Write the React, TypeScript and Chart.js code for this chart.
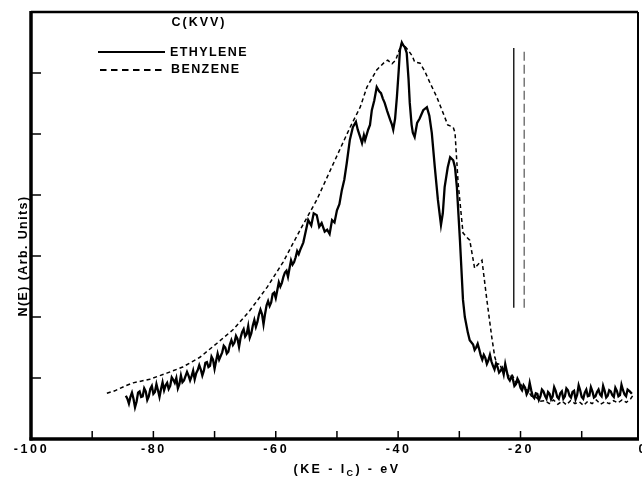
import React, { useEffect, useRef } from "react";
import { Chart, registerables } from "chart.js";

Chart.register(...registerables);

// ---- data (x: KE - Ic in eV, y: N(E) arbitrary units) ----
const benzenePoints: [number, number][] = [
  [-87.6, 0.75], [-86.3, 0.79], [-84.6, 0.87], [-83.3, 0.92], [-80.6, 0.98], [-77.8, 1.08],
  [-75.2, 1.18], [-72.4, 1.34], [-69.6, 1.57], [-67.0, 1.79], [-64.2, 2.11], [-61.4, 2.49],
  [-58.8, 2.9], [-56.0, 3.43], [-53.3, 3.92], [-50.7, 4.49], [-47.9, 5.1], [-46.2, 5.44],
  [-45.1, 5.77], [-43.5, 6.05], [-42.2, 6.18], [-41.7, 6.21], [-41.0, 6.15], [-40.4, 6.21],
  [-39.7, 6.41], [-39.4, 6.49], [-38.9, 6.44], [-38.4, 6.38], [-37.7, 6.28], [-37.3, 6.18],
  [-36.4, 6.16], [-35.6, 6.02], [-34.8, 5.84], [-33.7, 5.61], [-32.4, 5.28], [-31.9, 5.15],
  [-31.0, 5.11], [-30.7, 5.02], [-30.2, 4.2], [-29.4, 3.38], [-28.8, 3.31], [-28.3, 3.26],
  [-27.5, 2.8], [-26.3, 2.93], [-25.5, 2.28], [-24.7, 1.67], [-24.2, 1.34], [-23.8, 1.22],
  [-23.4, 1.24], [-23.0, 1.12], [-22.5, 1.15], [-22.0, 1.03], [-21.4, 1.06], [-20.8, 0.93],
  [-20.1, 0.92], [-19.5, 0.82], [-18.8, 0.8], [-18.2, 0.7], [-17.5, 0.69], [-16.8, 0.62],
  [-16.0, 0.63], [-15.3, 0.58], [-14.6, 0.64], [-13.9, 0.57], [-13.2, 0.62], [-12.5, 0.56],
  [-11.8, 0.63], [-11.1, 0.58], [-10.4, 0.61], [-9.7, 0.55], [-9.0, 0.62], [-8.3, 0.58],
  [-7.6, 0.64], [-6.9, 0.57], [-6.2, 0.61], [-5.5, 0.58], [-4.8, 0.63], [-4.1, 0.59],
  [-3.4, 0.64], [-2.7, 0.6], [-2.0, 0.66], [-1.6, 0.72],
];

const ethyleneLow: [number, number][] = [
  [-84.5, 0.71], [-84.25, 0.66], [-84, 0.58], [-83.75, 0.69], [-83.5, 0.76], [-83.25, 0.66],
  [-83, 0.52], [-82.75, 0.61], [-82.5, 0.76], [-82.25, 0.78], [-82, 0.69], [-81.75, 0.7],
  [-81.5, 0.83], [-81.25, 0.78], [-81, 0.64], [-80.75, 0.7], [-80.5, 0.82], [-80.25, 0.87],
  [-80, 0.74], [-79.75, 0.77], [-79.5, 0.9], [-79.25, 0.8], [-79, 0.69], [-78.75, 0.82],
  [-78.5, 0.93], [-78.25, 0.8], [-78, 0.88], [-77.75, 0.92], [-77.5, 0.82], [-77.25, 0.87],
  [-77, 1.01], [-76.75, 0.97], [-76.5, 0.92], [-76.25, 1.0], [-76, 0.83], [-75.75, 0.9],
  [-75.5, 1.04], [-75.25, 0.93], [-75, 0.96], [-74.75, 1.03], [-74.5, 1.1], [-74.25, 1.04],
  [-74, 0.96], [-73.75, 1.03], [-73.5, 1.12], [-73.25, 0.98], [-73, 1.08], [-72.75, 1.13],
  [-72.5, 1.21], [-72.25, 1.14], [-72, 1.04], [-71.75, 1.12], [-71.5, 1.25], [-71.25, 1.26],
  [-71, 1.18], [-70.75, 1.2], [-70.5, 1.35], [-70.25, 1.3], [-70, 1.15], [-69.75, 1.28],
  [-69.5, 1.4], [-69.25, 1.3], [-69, 1.36], [-68.75, 1.42], [-68.5, 1.53], [-68.25, 1.5],
  [-68, 1.4], [-67.75, 1.43], [-67.5, 1.55], [-67.25, 1.62], [-67, 1.54], [-66.75, 1.58],
  [-66.5, 1.69], [-66.25, 1.64], [-66, 1.51], [-65.75, 1.66], [-65.5, 1.75], [-65.25, 1.8],
  [-65, 1.68], [-64.75, 1.72], [-64.5, 1.85], [-64.25, 1.66], [-64, 1.73], [-63.75, 1.86],
  [-63.5, 1.95], [-63.25, 1.84], [-63, 1.92], [-62.75, 2.04], [-62.5, 2.12], [-62.25, 2.05],
  [-62, 1.88], [-61.75, 2.05], [-61.5, 2.19], [-61.25, 2.26], [-61, 2.18], [-60.75, 2.24],
  [-60.5, 2.38], [-60.25, 2.4], [-60, 2.31], [-59.75, 2.44], [-59.5, 2.57], [-59.25, 2.5],
  [-59, 2.56], [-58.75, 2.66], [-58.5, 2.73], [-58.25, 2.76], [-58, 2.66], [-57.75, 2.8],
  [-57.5, 2.93], [-57.25, 2.86], [-57, 2.9], [-56.75, 2.98], [-56.5, 3.08], [-56.25, 3.03],
  [-56, 3.1],
];

const ethylenePeak: [number, number][] = [
  [-55.5, 3.22], [-55.0, 3.45], [-54.7, 3.59], [-54.2, 3.5], [-53.8, 3.7], [-53.3, 3.67],
  [-52.9, 3.48], [-52.5, 3.54], [-52.0, 3.4], [-51.6, 3.43], [-51.2, 3.36], [-50.8, 3.59],
  [-50.4, 3.55], [-50.0, 3.75], [-49.6, 3.85], [-49.2, 4.08], [-48.8, 4.25], [-48.4, 4.52],
  [-47.9, 4.9], [-47.4, 5.11], [-46.9, 5.2], [-46.6, 5.07], [-46.2, 4.95], [-45.9, 4.85],
  [-45.6, 4.98], [-45.4, 4.9], [-44.9, 5.07], [-44.6, 5.15], [-44.3, 5.39], [-43.9, 5.55],
  [-43.5, 5.77], [-43.1, 5.7], [-42.8, 5.67], [-42.5, 5.58], [-42.2, 5.51], [-41.8, 5.38],
  [-41.3, 5.23], [-41.0, 5.15], [-40.8, 5.07], [-40.5, 5.25], [-40.2, 5.61], [-39.9, 6.05],
  [-39.7, 6.38], [-39.4, 6.5], [-39.2, 6.46], [-38.9, 6.42], [-38.6, 6.33], [-38.3, 5.9],
  [-38.1, 5.51], [-37.8, 5.15], [-37.6, 5.02], [-37.3, 4.95], [-36.9, 5.18], [-36.5, 5.25],
  [-35.9, 5.39], [-35.3, 5.44], [-34.9, 5.3], [-34.5, 5.02], [-34.0, 4.45], [-33.5, 3.92],
  [-33.0, 3.51], [-32.7, 3.7], [-32.4, 4.13], [-31.9, 4.45], [-31.5, 4.62], [-31.0, 4.57],
  [-30.7, 4.45], [-30.4, 4.13], [-29.9, 3.26], [-29.4, 2.28], [-29.1, 2.0], [-28.6, 1.74],
  [-28.3, 1.62],
];

const ethyleneTail: [number, number][] = [
  [-27.75, 1.55], [-27.5, 1.46], [-27.25, 1.5], [-27, 1.56], [-26.75, 1.47], [-26.5, 1.37],
  [-26.25, 1.3], [-26, 1.38], [-25.75, 1.33], [-25.5, 1.23], [-25.25, 1.29], [-25, 1.38],
  [-24.75, 1.27], [-24.5, 1.2], [-24.25, 1.14], [-24, 1.24], [-23.75, 1.18], [-23.5, 1.09],
  [-23.25, 1.12], [-23, 1.16], [-22.75, 1.06], [-22.5, 1.23], [-22.25, 1.11], [-22, 1.0],
  [-21.75, 0.96], [-21.5, 1.02], [-21.25, 0.98], [-21, 0.87], [-20.75, 0.9], [-20.5, 0.99],
  [-20.25, 0.94], [-20, 0.84], [-19.75, 0.8], [-19.5, 0.88], [-19.25, 0.84], [-19, 0.73],
  [-18.75, 0.78], [-18.5, 0.92], [-18.25, 0.8], [-18, 0.7], [-17.75, 0.67], [-17.5, 0.75],
  [-17.25, 0.74], [-17, 0.64], [-16.75, 0.7], [-16.5, 0.81], [-16.25, 0.78], [-16, 0.71],
  [-15.75, 0.66], [-15.5, 0.77], [-15.25, 0.74], [-15, 0.65], [-14.75, 0.7], [-14.5, 0.85],
  [-14.25, 0.79], [-14, 0.69], [-13.75, 0.66], [-13.5, 0.75], [-13.25, 0.78], [-13, 0.66],
  [-12.75, 0.7], [-12.5, 0.83], [-12.25, 0.8], [-12, 0.71], [-11.75, 0.68], [-11.5, 0.77],
  [-11.25, 0.79], [-11, 0.65], [-10.75, 0.72], [-10.5, 0.88], [-10.25, 0.8], [-10, 0.69],
  [-9.75, 0.66], [-9.5, 0.76], [-9.25, 0.81], [-9, 0.7], [-8.75, 0.71], [-8.5, 0.85],
  [-8.25, 0.78], [-8, 0.68], [-7.75, 0.7], [-7.5, 0.77], [-7.25, 0.81], [-7, 0.73],
  [-6.75, 0.7], [-6.5, 0.87], [-6.25, 0.79], [-6, 0.68], [-5.75, 0.71], [-5.5, 0.8],
  [-5.25, 0.78], [-5, 0.72], [-4.75, 0.69], [-4.5, 0.84], [-4.25, 0.79], [-4, 0.7],
  [-3.75, 0.72], [-3.5, 0.89], [-3.25, 0.8], [-3, 0.73], [-2.75, 0.7], [-2.5, 0.81],
  [-2.15, 0.78], [-1.8, 0.74],
];

const ionSolidX = -21.1;
const ionDashedX = -19.4;
const ionLineY = [2.15, 6.41];

const xTickMarks = [-90, -80, -70, -60, -50, -40, -30, -20, -10];
const xTickLabels = [-100, -80, -60, -40, -20, 0];
const yTickMarks = [1, 2, 3, 4, 5, 6];

const TITLE = "C(KVV)";
const LEGEND_SOLID = "ETHYLENE";
const LEGEND_DASHED = "BENZENE";
const Y_TITLE = "N(E) (Arb. Units)";

const FAMILY = '"Liberation Sans", Arial, sans-serif';
const FONT = "bold 12.5px " + FAMILY;

const toXY = (pts: [number, number][]) => pts.map(([x, y]) => ({ x, y }));

const framePlugin = {
  id: "frame",
  afterDraw(chart: any) {
    const { ctx, chartArea: a, scales } = chart;
    const xs = scales.x;
    const ys = scales.y;
    const line = (x1: number, y1: number, x2: number, y2: number) => {
      ctx.beginPath();
      ctx.moveTo(x1, y1);
      ctx.lineTo(x2, y2);
      ctx.stroke();
    };
    ctx.save();
    ctx.strokeStyle = "#000";
    ctx.fillStyle = "#000";
    ctx.setLineDash([]);
    // frame
    ctx.lineWidth = 2.5;
    line(a.left, a.top, a.right, a.top);
    ctx.lineWidth = 2;
    line(a.right, a.top, a.right, a.bottom);
    ctx.lineWidth = 3.5;
    line(a.left, a.top - 1, a.left, a.bottom + 1.5);
    line(a.left - 1.5, a.bottom, a.right + 1, a.bottom);
    // inward ticks
    ctx.lineWidth = 1.5;
    xTickMarks.forEach((v) => {
      const px = xs.getPixelForValue(v);
      line(px, a.bottom, px, a.bottom - 8);
    });
    yTickMarks.forEach((v) => {
      const py = ys.getPixelForValue(v);
      line(a.left, py, a.left + 10, py);
    });
    // tick labels
    ctx.font = FONT;
    (ctx as any).letterSpacing = "2.6px";
    ctx.textAlign = "center";
    ctx.textBaseline = "middle";
    xTickLabels.forEach((v) => {
      const px = xs.getPixelForValue(v);
      const label = v === 0 ? "0" : "-" + Math.abs(v);
      ctx.fillText(label, px + 0.5, a.bottom + 11);
    });
    // x title with subscript
    (ctx as any).letterSpacing = "2.4px";
    const parts = [
      { t: "(KE - I", f: FONT, dy: 0 },
      { t: "C", f: "bold 9px " + FAMILY, dy: 4 },
      { t: ") - eV", f: FONT, dy: 0 },
    ];
    ctx.textAlign = "left";
    let total = 0;
    parts.forEach((p) => {
      ctx.font = p.f;
      total += ctx.measureText(p.t).width;
    });
    let cx = a.left + 316 - total / 2;
    const ty = a.bottom + 31;
    parts.forEach((p) => {
      ctx.font = p.f;
      ctx.fillText(p.t, cx, ty + p.dy);
      cx += ctx.measureText(p.t).width;
    });
    // y title
    ctx.save();
    ctx.font = FONT;
    (ctx as any).letterSpacing = "1.4px";
    ctx.textAlign = "center";
    ctx.translate(a.left - 7, a.top + 244);
    ctx.rotate(-Math.PI / 2);
    ctx.fillText(Y_TITLE, 0, 0);
    ctx.restore();
    // title
    ctx.font = FONT;
    (ctx as any).letterSpacing = "2px";
    ctx.textAlign = "center";
    ctx.fillText(TITLE, a.left + 168, a.top + 11);
    // legend
    (ctx as any).letterSpacing = "1.4px";
    ctx.textAlign = "left";
    ctx.lineWidth = 1.8;
    line(a.left + 67, a.top + 40, a.left + 134, a.top + 40);
    ctx.fillText(LEGEND_SOLID, a.left + 139, a.top + 41);
    ctx.setLineDash([6.5, 4.5]);
    line(a.left + 69, a.top + 58, a.left + 133, a.top + 58);
    ctx.setLineDash([]);
    ctx.fillText(LEGEND_DASHED, a.left + 140, a.top + 58);
    ctx.restore();
  },
};

export default function App() {
  const ref = useRef<HTMLCanvasElement | null>(null);
  useEffect(() => {
    if (!ref.current) return;
    const chart = new Chart(ref.current, {
      type: "line",
      data: {
        datasets: [
          {
            label: LEGEND_DASHED,
            data: toXY(benzenePoints),
            borderColor: "#000",
            borderWidth: 1.5,
            borderDash: [4, 3],
            pointRadius: 0,
            tension: 0,
            fill: false,
          },
          {
            label: LEGEND_SOLID,
            data: toXY([...ethyleneLow, ...ethylenePeak, ...ethyleneTail]),
            borderColor: "#000",
            borderWidth: 2.3,
            pointRadius: 0,
            tension: 0,
            fill: false,
          },
          {
            label: "ion-solid",
            data: ionLineY.map((y) => ({ x: ionSolidX, y })),
            borderColor: "#000",
            borderWidth: 1.3,
            pointRadius: 0,
          },
          {
            label: "ion-dashed",
            data: ionLineY.map((y) => ({ x: ionDashedX, y })),
            borderColor: "#555",
            borderWidth: 1.2,
            borderDash: [9, 4],
            pointRadius: 0,
          },
        ],
      },
      options: {
        animation: false,
        responsive: false,
        events: [],
        layout: { padding: { left: 31, right: 4, top: 12, bottom: 40 } },
        scales: {
          x: { type: "linear", min: -100, max: -0.8, display: false },
          y: { type: "linear", min: 0, max: 7, display: false },
        },
        plugins: {
          legend: { display: false },
          tooltip: { enabled: false },
          title: { display: false },
        },
      },
      plugins: [framePlugin],
    });
    return () => chart.destroy();
  }, []);
  return (
    <div
      style={{
        position: "absolute",
        left: 0,
        top: 0,
        width: 642,
        height: 479,
        overflow: "hidden",
        background: "#fff",
      }}
    >
      <canvas ref={ref} width={642} height={479} style={{ display: "block" }} />
    </div>
  );
}
